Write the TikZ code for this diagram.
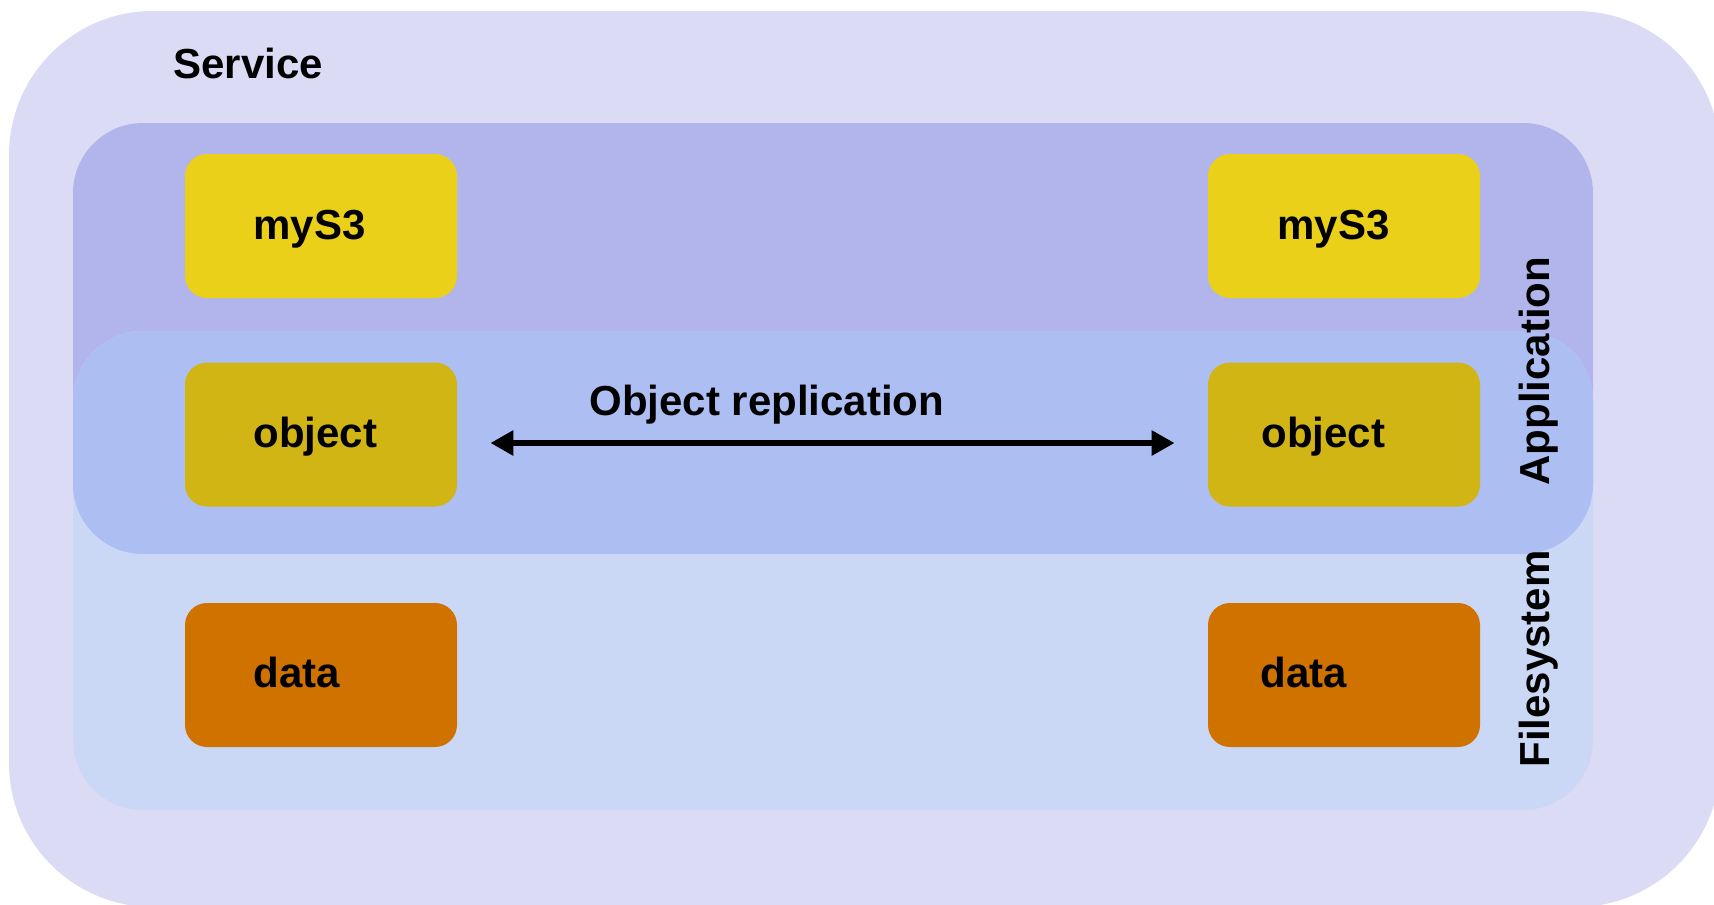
\documentclass[tikz,border=0pt]{standalone}
\usepackage{fontspec}
\setmainfont{Liberation Sans}
\usetikzlibrary{arrows.meta}
\definecolor{svcbg}{HTML}{DCDBF5}
\definecolor{appbg}{HTML}{B1B5EC}
\definecolor{fsbg}{HTML}{CAD8F6}
\definecolor{ovbg}{HTML}{ADBEF2}
\definecolor{mysbox}{HTML}{EBD01A}
\definecolor{objbox}{HTML}{D0B514}
\definecolor{databox}{HTML}{D07200}
\tikzset{
  lbl/.style={font=\bfseries\fontsize{21pt}{25pt}\selectfont, inner sep=0pt, anchor=base west, text=black},
  itembox/.style={rounded corners=11pt, minimum width=136pt, minimum height=72pt, inner sep=0pt, draw=none},
  layer/.style={rounded corners=35pt},
  reparrow/.style={{Triangle[length=11.5pt,width=12pt]}-{Triangle[length=11.5pt,width=12pt]}, line width=3pt, black}
}
\begin{document}
\begin{tikzpicture}[x=0.5pt,y=-0.5pt]
\useasboundingbox (0,0) rectangle (1714,905);
\clip (0,0) rectangle (1714,905);
\fill[white] (0,0) rectangle (1714,905);
% Service container
\fill[svcbg, rounded corners=72pt] (9,11) rectangle (1720,907);
% Application and Filesystem layers
\fill[appbg, layer] (73,123) rectangle (1593,554);
\fill[fsbg, layer] (73,331) rectangle (1593,810);
\begin{scope}
  \clip[layer] (73,123) rectangle (1593,554);
  \fill[ovbg, layer] (73,331) rectangle (1593,810);
\end{scope}
% boxes
\node[itembox, fill=mysbox] (mysL) at (321,226) {};
\node[itembox, fill=mysbox] (mysR) at (1344,226) {};
\node[itembox, fill=objbox] (objL) at (321,434.5) {};
\node[itembox, fill=objbox] (objR) at (1344,434.5) {};
\node[itembox, fill=databox] (datL) at (321,675) {};
\node[itembox, fill=databox] (datR) at (1344,675) {};
% labels
\node[lbl] (tsvc) at (173,78) {Service};
\node[lbl] (tmysL) at (253,239) {myS3};
\node[lbl] (tmysR) at (1277,239) {myS3};
\node[lbl] (tobjL) at (253,447) {object};
\node[lbl] (tobjR) at (1261,447) {object};
\node[lbl] (tdatL) at (253,687) {data};
\node[lbl] (tdatR) at (1260,687) {data};
\node[lbl] (trep) at (589,415) {Object replication};
\node[lbl, rotate=90] (tapp) at (1549,486) {Application};
\node[lbl, rotate=90] (tfs) at (1549,768) {Filesystem};
% arrow
\draw[reparrow, shorten <=16.5pt, shorten >=16.5pt] ([yshift=-4.25pt]objL.east) -- ([yshift=-4.25pt]objR.west);
\end{tikzpicture}
\end{document}
